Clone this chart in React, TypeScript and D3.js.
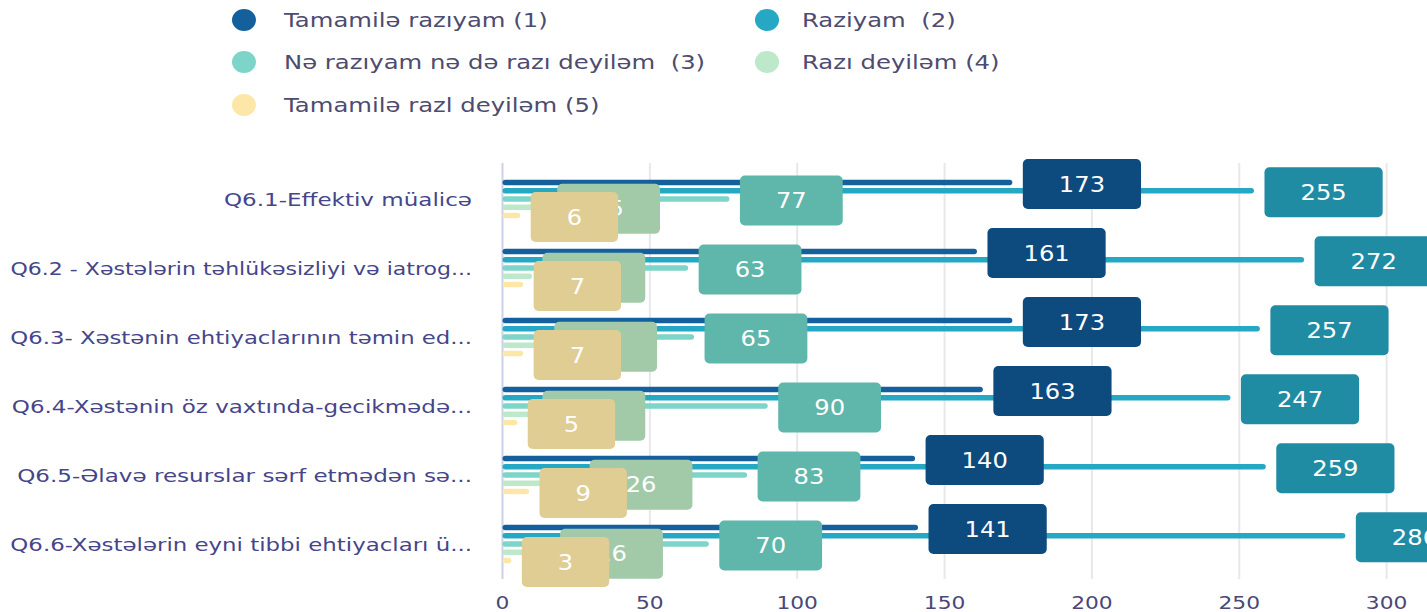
import React, { useEffect, useRef } from "react";
import * as d3 from "d3";

const categories = [
  "Q6.1-Effektiv müalicə",
  "Q6.2 - Xəstələrin təhlükəsizliyi və iatrog...",
  "Q6.3- Xəstənin ehtiyaclarının təmin ed...",
  "Q6.4-Xəstənin öz vaxtında-gecikmədə...",
  "Q6.5-Əlavə resurslar sərf etmədən sə...",
  "Q6.6-Xəstələrin eyni tibbi ehtiyacları ü...",
];

const seriesNames = [
  "Tamamilə razıyam (1)",
  "Raziyam  (2)",
  "Nə razıyam nə də razı deyiləm  (3)",
  "Razı deyiləm (4)",
  "Tamamilə razl deyiləm (5)",
];

const tamamileRaziyam = [173, 161, 173, 163, 140, 141];
const raziyam = [255, 272, 257, 247, 259, 286];
const neRaziyamNeDeyilem = [77, 63, 65, 90, 83, 70];
const raziDeyilem = [15, 10, 14, 10, 26, 16];
const tamamileRaziDeyilem = [6, 7, 7, 5, 9, 3];

const xTicks = [0, 50, 100, 150, 200, 250, 300];

const barColors = ["#14609c", "#25a8c4", "#7dd4c8", "#bde8c9", "#fde7a8"];
const labelColors = ["#0d4a7e", "#1f8ca4", "#5fb6aa", "#a2caa9", "#dfcd94"];

const W = 1427;
const H = 612;
const FONT = "'DejaVu Sans', sans-serif";
const SX = 1.28; // the reference text is stretched sideways

export default function App() {
  const ref = useRef<SVGSVGElement>(null);

  useEffect(() => {
    const svg = d3.select(ref.current);
    svg.selectAll("*").remove();

    const series = [
      tamamileRaziyam,
      raziyam,
      neRaziyamNeDeyilem,
      raziDeyilem,
      tamamileRaziDeyilem,
    ];

    const x = d3.scaleLinear().domain([0, 300]).range([502.5, 1386.6]);
    const y = d3.scaleBand().domain(categories).range([164.5, 578.5]).padding(0);
    const barH = 5.5;
    const step = 8.25;
    const center = (c: string) => (y(c) as number) + y.bandwidth() / 2;

    // legend
    const legendPos = [
      [244, 284, 20],
      [767, 802, 20],
      [244, 284, 62],
      [767, 802, 62],
      [244, 284, 105],
    ];
    const legend = svg.append("g");
    seriesNames.forEach((name, i) => {
      const [dx, tx, ly] = legendPos[i];
      legend.append("ellipse")
        .attr("cx", dx).attr("cy", ly).attr("rx", 12).attr("ry", 11)
        .attr("fill", barColors[i]);
      legend.append("text")
        .attr("transform", `translate(${tx},${ly}) scale(${SX},1)`)
        .attr("dominant-baseline", "central")
        .style("white-space", "pre")
        .attr("font-family", FONT)
        .attr("font-size", 19)
        .attr("fill", "#4d4b6e")
        .text(name);
    });

    // grid
    svg.append("g").selectAll("line").data(xTicks).join("line")
      .attr("x1", d => x(d)).attr("x2", d => x(d))
      .attr("y1", 163).attr("y2", 579)
      .attr("stroke", d => (d === 0 ? "#ccd1ea" : "#e8e8e8"))
      .attr("stroke-width", 2);

    // x tick labels
    svg.append("g").selectAll("text").data(xTicks).join("text")
      .attr("transform", d => `translate(${x(d)},${603}) scale(${SX},1)`)
      .attr("text-anchor", "middle")
      .attr("dominant-baseline", "central")
      .attr("font-family", FONT)
      .attr("font-size", 17)
      .attr("fill", "#4a4877")
      .text(d => d);

    // category labels, squeezed so the long ones start at x=10
    svg.append("g").selectAll("text").data(categories).join("text")
      .attr("text-anchor", "end")
      .attr("dominant-baseline", "central")
      .attr("font-family", FONT)
      .attr("font-size", 18)
      .attr("fill", "#46458a")
      .text(d => d)
      .attr("transform", function (d) {
        const w = (this as SVGTextElement).getComputedTextLength();
        const sx = Math.min(SX, 462 / w);
        return `translate(472,${center(d) + 1}) scale(${sx},1)`;
      });

    // bars
    series.forEach((vals, si) => {
      svg.append("g").selectAll("rect").data(vals).join("rect")
        .attr("x", x(0))
        .attr("y", (d, i) => center(categories[i]) + (si - 2) * step - barH / 2)
        .attr("width", d => x(d) - x(0))
        .attr("height", barH)
        .attr("rx", barH / 2)
        .attr("fill", barColors[si]);
    });

    // data labels
    series.forEach((vals, si) => {
      const g = svg.append("g");
      vals.forEach((v, i) => {
        const cy = center(categories[i]) + (si - 2) * step + 1.5;
        const lg = g.append("g");
        const rect = lg.append("rect");
        const t = lg.append("text")
          .attr("text-anchor", "middle")
          .attr("dominant-baseline", "central")
          .attr("font-family", FONT)
          .attr("font-size", 22)
          .attr("fill", "#ffffff")
          .text(v);
        const tw = (t.node() as SVGTextElement).getComputedTextLength() * 1.1;
        const bw = tw + 72;
        const left = x(v) + 10.5;
        rect.attr("x", left).attr("y", cy - 25)
          .attr("width", bw).attr("height", 50)
          .attr("rx", 5).attr("fill", labelColors[si]);
        t.attr("transform", `translate(${left + bw / 2},${cy}) scale(1.1,1)`);
      });
    });
  }, []);

  return (
    <div style={{ position: "absolute", left: 0, top: 0 }}>
      <svg ref={ref} width={W} height={H} style={{ display: "block", background: "#fff" }} />
    </div>
  );
}
